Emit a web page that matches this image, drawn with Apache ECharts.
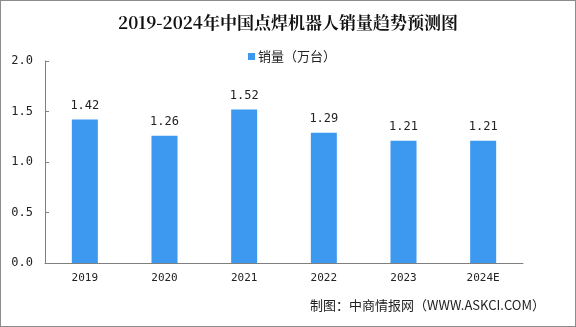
<!DOCTYPE html>
<html>
<head>
<meta charset="utf-8">
<script src="https://cdn.jsdelivr.net/npm/echarts@6/dist/echarts.min.js"></script>
<style>
  html, body { margin: 0; padding: 0; background: #fff; }
  #chart { width: 576px; height: 327px; box-sizing: border-box; border: 1px solid #8c8c8c; }
</style>
</head>
<body>
<div id="chart"></div>
<script>
// Annual spot-welding robot sales in China (10k units), 2024 is a forecast
const years = ['2019', '2020', '2021', '2022', '2023', '2024E'];
const sales = [1.42, 1.26, 1.52, 1.29, 1.21, 1.21];
const yTicks = [0, 0.5, 1.0, 1.5, 2.0];

const chart = echarts.init(document.getElementById('chart'), null, { renderer: 'canvas' });

chart.setOption({
  animation: false,
  backgroundColor: '#ffffff',
  title: {
    text: '2019-2024年中国点焊机器人销量趋势预测图',
    left: 'center',
    top: 8,
    textStyle: {
      fontFamily: '"Noto Serif CJK SC", "DejaVu Serif", "Liberation Serif", serif',
      fontWeight: 'bold',
      fontSize: 17,
      color: '#111'
    }
  },
  legend: {
    data: ['销量（万台）'],
    top: 44,
    left: 242,
    itemWidth: 7,
    itemHeight: 7,
    itemGap: 4,
    icon: 'rect',
    textStyle: { fontSize: 13, color: '#222', fontFamily: '"Noto Sans CJK SC", sans-serif', padding: [0, 0, 0, -2] }
  },
  graphic: [{
    type: 'text',
    right: 30,
    top: 298,
    style: {
      text: '制图：中商情报网（WWW.ASKCI.COM）',
      fontSize: 13,
      fill: '#222',
      fontFamily: '"Noto Sans CJK SC", sans-serif'
    }
  }],
  grid: { left: 44, right: 52, top: 60, bottom: 63, containLabel: false },
  xAxis: {
    type: 'category',
    data: years,
    axisLine: { lineStyle: { color: '#808080', width: 1 } },
    axisTick: { show: false },
    axisLabel: { color: '#222', fontSize: 11, margin: 10, fontFamily: '"DejaVu Sans Mono", monospace' },
    splitLine: { show: false }
  },
  yAxis: {
    type: 'value',
    min: yTicks[0],
    max: yTicks[yTicks.length - 1],
    interval: 0.5,
    axisLine: { show: true, lineStyle: { color: '#808080', width: 1 } },
    axisTick: { show: true, inside: true, length: 4, lineStyle: { color: '#808080' } },
    axisLabel: {
      color: '#222',
      fontSize: 12,
      margin: 12,
      fontFamily: '"DejaVu Sans Mono", monospace',
      formatter: v => v.toFixed(1)
    },
    splitLine: { show: false }
  },
  series: [{
    name: '销量（万台）',
    type: 'bar',
    data: sales,
    barWidth: 26,
    itemStyle: { color: '#3d98ef' },
    label: {
      show: true,
      position: 'top',
      distance: 8,
      color: '#222',
      fontSize: 12,
      fontFamily: '"DejaVu Sans Mono", monospace',
      formatter: p => p.value.toFixed(2)
    }
  }]
});
</script>
</body>
</html>
